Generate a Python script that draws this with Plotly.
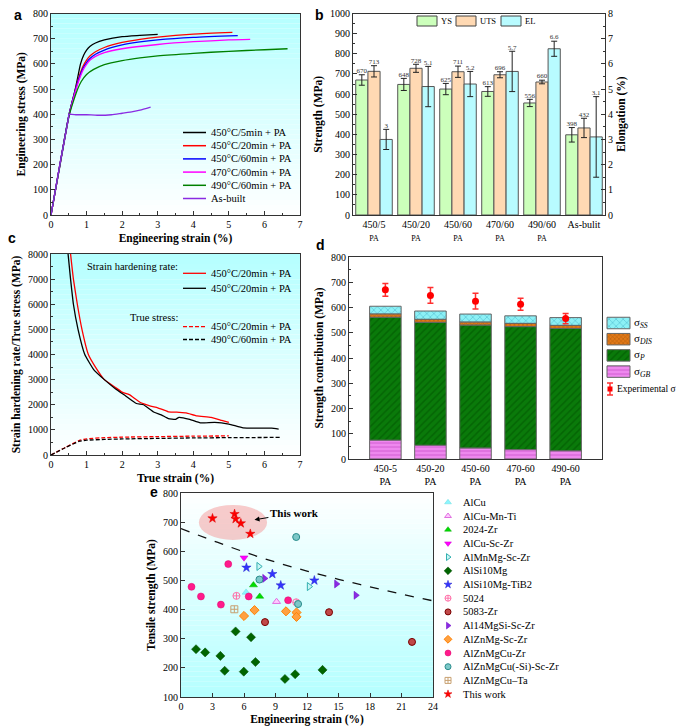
import plotly.graph_objects as go

SERIF = "Liberation Serif"
# the page body has an 8px margin; the figure is sized so that it fills the 685x726 window
OFF = 8
W, H = 685 - OFF, 726 - OFF

def px(x):
    return (x - OFF) / W

def py(y):
    return 1 - (y - OFF) / H

# ---------------- Panel a: engineering stress-strain ----------------
a_names = ["450°C/5min + PA", "450°C/20min + PA", "450°C/60min + PA",
           "470°C/60min + PA", "490°C/60min + PA", "As-built"]
a_colors = ["#000000", "#ff0000", "#0000ff", "#ff00ff", "#008000", "#8a2be2"]
a_x_450_5 = [0, 0.25, 0.51, 0.65, 0.75, 0.83, 0.92, 1.0, 1.1, 1.25, 1.5, 2.0, 2.5, 3.0]
a_y_450_5 = [0, 200, 400, 480, 545, 600, 635, 655, 670, 683, 695, 708, 713, 717]
a_x_450_20 = [0, 0.25, 0.51, 0.65, 0.78, 0.9, 1.0, 1.1, 1.25, 1.5, 2.0, 2.5, 3.0, 4.0, 5.1]
a_y_450_20 = [0, 200, 400, 480, 545, 590, 615, 632, 648, 665, 685, 697, 706, 718, 725]
a_x_450_60 = [0, 0.25, 0.51, 0.65, 0.78, 0.9, 1.0, 1.1, 1.25, 1.5, 2.0, 2.5, 3.0, 4.0, 5.25]
a_y_450_60 = [0, 200, 400, 478, 540, 582, 605, 622, 638, 655, 675, 687, 695, 705, 712]
a_x_470_60 = [0, 0.25, 0.51, 0.65, 0.78, 0.9, 1.0, 1.1, 1.25, 1.5, 2.0, 3.0, 4.0, 5.0, 5.6]
a_y_470_60 = [0, 195, 395, 472, 532, 575, 598, 615, 630, 645, 660, 677, 688, 695, 697]
a_x_490_60 = [0, 0.25, 0.51, 0.65, 0.75, 0.85, 1.0, 1.2, 1.5, 2.0, 2.5, 3.0, 4.0, 5.0, 6.0, 6.65]
a_y_490_60 = [0, 195, 395, 460, 500, 530, 558, 578, 597, 613, 624, 632, 642, 650, 656, 660]
a_x_asbuilt = [0, 0.25, 0.49, 0.5, 0.52, 0.7, 1.0, 1.3, 1.7, 2.0, 2.3, 2.5, 2.8]
a_y_asbuilt = [0, 200, 385, 400, 400, 398, 398, 396, 398, 404, 410, 416, 428]
a_xs = [a_x_450_5, a_x_450_20, a_x_450_60, a_x_470_60, a_x_490_60, a_x_asbuilt]
a_ys = [a_y_450_5, a_y_450_20, a_y_450_60, a_y_470_60, a_y_490_60, a_y_asbuilt]

# ---------------- Panel b: YS / UTS / EL bars ----------------
b_cats = ["450/5", "450/20", "450/60", "470/60", "490/60", "As-bulit"]
b_sub = ["PA", "PA", "PA", "PA", "PA", ""]
ys = [670, 648, 625, 613, 556, 398]
ys_err = [26, 30, 28, 24, 18, 36]
uts = [713, 728, 711, 696, 660, 432]
uts_err = [28, 20, 28, 15, 9, 48]
el = [3, 5.1, 5.2, 5.7, 6.6, 3.1]
el_err = [0.4, 0.8, 0.5, 0.8, 0.3, 1.6]
el_labels = ["3", "5.1", "5.2", "5.7", "6.6", "3.1"]
b_series = ["YS", "UTS", "EL"]
b_colors = ["#ccffbb", "#ffd9b3", "#b8fbff"]

# ---------------- Panel c: strain hardening ----------------
c_x_shr_450_20 = [0.55, 0.63, 0.74, 0.87, 1.05, 1.25, 1.5, 1.8, 2.0, 2.2, 2.5, 2.8, 3.0, 3.3, 3.6, 3.8, 4.1, 4.5, 4.8, 5.0]
c_y_shr_450_20 = [8000, 7000, 6000, 5000, 4000, 3500, 3000, 2700, 2500, 2400, 2100, 1950, 1880, 1720, 1700, 1680, 1560, 1500, 1380, 1300]
c_x_shr_b = [0.48, 0.55, 0.63, 0.76, 0.95, 1.2, 1.5, 1.8, 2.1, 2.4, 2.6, 2.9, 3.1, 3.3, 3.5, 3.6, 3.9, 4.2, 4.6, 5.0, 5.4, 5.8, 6.2, 6.4]
c_y_shr_b = [8000, 7000, 6000, 5000, 4000, 3400, 3000, 2650, 2350, 2050, 2000, 1700, 1600, 1450, 1420, 1500, 1420, 1280, 1300, 1230, 1080, 1070, 1070, 1030]
c_x_ts_450_20 = [0, 0.4, 0.8, 1.0, 1.5, 2.0, 3.0, 4.0, 5.0]
c_y_ts_450_20 = [0, 300, 580, 640, 690, 710, 730, 750, 760]
c_x_ts_490_60 = [0, 0.4, 0.8, 1.0, 1.5, 2.0, 3.0, 4.0, 5.0, 6.45]
c_y_ts_490_60 = [0, 290, 550, 590, 620, 640, 660, 680, 690, 700]
c_names = ["450°C/20min + PA", "450°C/20min + PA", "450°C/20min + PA", "490°C/60min + PA"]
c_colors = ["#ff0000", "#000000", "#ff0000", "#000000"]
c_dash = ["solid", "solid", "4px,2px", "4px,2px"]
c_xs = [c_x_shr_450_20, c_x_shr_b, c_x_ts_450_20, c_x_ts_490_60]
c_ys = [c_y_shr_450_20, c_y_shr_b, c_y_ts_450_20, c_y_ts_490_60]

# ---------------- Panel d: strength contributions ----------------
d_cats = ["450-5", "450-20", "450-60", "470-60", "490-60"]
sig_gb = [74, 54, 43, 37, 32]
sig_p = [487, 487, 487, 487, 485]
sig_dis = [13, 12, 12, 13, 12]
sig_ss = [31, 33, 32, 30, 31]
exp_sig = [670, 648, 625, 613, 556]
exp_err = [25, 31, 31, 24, 20]

# ---------------- Panel e: scatter ----------------
e_groups = [
    ("AlCu", [6.2], [459]),
    ("AlCu-Mn-Ti", [9.1], [427]),
    ("2024-Zr", [6.9, 7.5], [484, 445]),
    ("AlCu-Sc-Zr", [6.0], [578]),
    ("AlMnMg-Sc-Zr", [7.4, 12.2], [548, 479]),
    ("AlSi10Mg", [1.43, 2.3, 3.75, 4.16, 5.2, 5.98, 6.67, 7.09, 9.9, 10.87, 13.48],
     [264, 253, 241, 190, 325, 187, 305, 220, 162, 178, 193]),
    ("AlSi10Mg-TiB2", [6.23, 8.7, 9.5, 12.7], [544, 522, 483, 500]),
    ("5024", [5.28, 10.97], [447, 425]),
    ("5083-Zr", [8.0, 14.1, 22.0], [357, 391, 289]),
    ("Al14MgSi-Sc-Zr", [7.95, 14.8, 16.65], [507, 488, 449]),
    ("AlZnMg-Sc-Zr", [6.0, 7.0, 10.0, 11.0, 11.0], [378, 398, 394, 390, 375]),
    ("AlZnMgCu-Zr", [1.0, 1.9, 3.8, 4.5, 6.45, 10.2], [478, 445, 417, 556, 445, 432]),
    ("AlZnMgCu(-Si)-Sc-Zr", [10.97, 7.47, 11.15], [649, 503, 419]),
    ("AlZnMgCu–Ta", [5.08], [401]),
    ("This work", el[:5], uts[:5]),
]
e_styles = [
    dict(symbol="triangle-up", color="#8cf5ff", line=dict(color="#66dddd", width=0.5)),
    dict(symbol="triangle-up", color="#ffc8ff", line=dict(color="#e070e0", width=1)),
    dict(symbol="triangle-up", color="#00dd00", line=dict(color="#00aa00", width=0.5)),
    dict(symbol="triangle-down", color="#ff00ff", line=dict(color="#cc00cc", width=0.5)),
    dict(symbol="triangle-right", color="#c8f5f5", line=dict(color="#33b0b0", width=1)),
    dict(symbol="diamond", color="#006400", line=dict(color="#004d00", width=0.5)),
    dict(symbol="star", color="#3333ff", line=dict(color="#2222cc", width=0.5)),
    dict(symbol="circle-cross-open", color="#ff6fa8", line=dict(color="#ff6fa8", width=1)),
    dict(symbol="circle", color="#c04848", line=dict(color="#7a0000", width=1)),
    dict(symbol="triangle-right", color="#8a2be2", line=dict(color="#6a00c8", width=0.5)),
    dict(symbol="diamond", color="#ffa040", line=dict(color="#ff8000", width=1)),
    dict(symbol="circle", color="#ff1a8c", line=dict(color="#e0006a", width=0.5)),
    dict(symbol="circle", color="#7cc8c8", line=dict(color="#2a8c8c", width=1)),
    dict(symbol="square-cross-open", color="#c8a070", line=dict(color="#c8a070", width=1)),
    dict(symbol="star", color="#ff0000", line=dict(color="#dd0000", width=0.5)),
]
trend_x = [0, 3, 6, 9, 12, 15, 18, 21, 24]
trend_y = [678, 637, 598, 563, 532, 504, 478, 453, 430]

# ---------------- Figure ----------------
fig = go.Figure()
shapes = []
annotations = []

def ann_text(text, x, y, size=10, xanchor="left", **kw):
    annotations.append(dict(text=text, x=px(x), y=py(y), xref="paper", yref="paper",
                            xanchor=xanchor, yanchor="middle", showarrow=False,
                            font=dict(family=SERIF, size=size, color="#000"), **kw))

# panel a traces
for name, col, xs_, ys_ in zip(a_names, a_colors, a_xs, a_ys):
    fig.add_trace(go.Scatter(x=xs_, y=ys_, mode="lines", name=name, showlegend=False,
                             line=dict(color=col, width=1.3, shape="spline", smoothing=0.6),
                             xaxis="x", yaxis="y"))
# panel a legend (manual, tight spacing)
for i, (name, col) in enumerate(zip(a_names, a_colors)):
    yy = 132.5 + i * 13.2
    shapes.append(dict(type="line", xref="paper", yref="paper", x0=px(183), x1=px(206),
                       y0=py(yy), y1=py(yy), line=dict(color=col, width=1.5)))
    ann_text(name, 209, yy, size=10.5)

# panel b traces
bw = 0.29
b_pos = list(range(len(b_cats)))
b_vals = [ys, uts, el]
b_errs = [ys_err, uts_err, el_err]
b_axes = ["y2", "y2", "y3"]
b_off = [-bw, 0, bw]
b_text = [[str(v) for v in ys], [str(v) for v in uts], el_labels]
for vals, errs, nm, col, off, yax, txt in zip(b_vals, b_errs, b_series, b_colors, b_off, b_axes, b_text):
    xs_ = [p + off for p in b_pos]
    fig.add_trace(go.Bar(x=xs_, y=vals, width=bw, name=nm, showlegend=False,
                         marker=dict(color=col, line=dict(color="#555555", width=1)),
                         error_y=dict(type="data", array=errs, color="#222222", thickness=1, width=3),
                         xaxis="x2", yaxis=yax))
    fig.add_trace(go.Scatter(x=xs_, y=[v + e for v, e in zip(vals, errs)],
                             mode="text", text=txt, textposition="top center",
                             textfont=dict(size=7, family=SERIF, color="#333333"),
                             showlegend=False, xaxis="x2", yaxis=yax))
# panel b legend
for i, (nm, col) in enumerate(zip(b_series, b_colors)):
    x0 = [417, 456, 501][i]
    shapes.append(dict(type="rect", xref="paper", yref="paper", x0=px(x0), x1=px(x0 + 20),
                       y0=py(26), y1=py(16), fillcolor=col, line=dict(color="#444", width=1)))
    ann_text(nm, x0 + 22, 21, size=8.5)

# panel c traces
for nm, col, dsh, xs_, ys_ in zip(c_names, c_colors, c_dash, c_xs, c_ys):
    fig.add_trace(go.Scatter(x=xs_, y=ys_, mode="lines", name=nm, showlegend=False,
                             line=dict(color=col, width=1.3, dash=dsh, shape="spline", smoothing=0.4),
                             xaxis="x4", yaxis="y4"))
c_leg_y = [273.3, 288.3, 326.7, 339.5]
for nm, col, dsh, yy in zip(c_names, c_colors, c_dash, c_leg_y):
    shapes.append(dict(type="line", xref="paper", yref="paper", x0=px(183), x1=px(206),
                       y0=py(yy), y1=py(yy), line=dict(color=col, width=1.3, dash=dsh)))
    ann_text(nm, 209, yy, size=10.5)
ann_text("Strain hardening rate:", 180, 266.5, size=10.5, xanchor="right")
ann_text("True stress:", 180, 318, size=10.5, xanchor="right")

# panel d traces
d_pos = list(range(len(d_cats)))
base_gb = [0] * len(d_cats)
base_p = sig_gb
base_dis = [a + b for a, b in zip(sig_gb, sig_p)]
base_ss = [a + b for a, b in zip(base_dis, sig_dis)]
d_layers = [
    (sig_ss, base_ss, "σ<sub><i>SS</i></sub>", "#8cf0f5", "#3aa8c0", "x", 5),
    (sig_dis, base_dis, "σ<sub><i>DIS</i></sub>", "#e07818", "#804000", "x", 3),
    (sig_p, base_p, "σ<sub><i>P</i></sub>", "#0a7a0a", "#005000", "/", 5),
    (sig_gb, base_gb, "σ<sub><i>GB</i></sub>", "#ee88ee", "#c040c0", "-", 4),
]
for i, (vals, base, nm, col, fg, shp, sz) in enumerate(d_layers):
    pat = dict(shape=shp, fgcolor=fg, size=sz, solidity=0.3, fillmode="overlay")
    fig.add_trace(go.Bar(x=d_pos, y=vals, base=base, width=0.7, name=nm, showlegend=False,
                         marker=dict(color=col, line=dict(color="#666666", width=1), pattern=pat),
                         xaxis="x5", yaxis="y5"))
    # legend swatch on the pixel overlay axis
    yy = 323 + i * 16.2
    fig.add_trace(go.Bar(y=[yy], x=[23], base=[607], width=11.5, orientation="h",
                         showlegend=False, hoverinfo="skip",
                         marker=dict(color=col, line=dict(color="#666666", width=1), pattern=pat),
                         xaxis="x7", yaxis="y7"))
    ann_text(nm, 632, yy, size=11)
fig.add_trace(go.Scatter(x=d_pos, y=exp_sig, mode="markers", name="Experimental σ", showlegend=False,
                         marker=dict(color="#ff0000", size=7, symbol="circle"),
                         error_y=dict(type="data", array=exp_err, color="#ff3030", thickness=1.5, width=3),
                         xaxis="x5", yaxis="y5"))
fig.add_trace(go.Scatter(x=[610], y=[389], mode="markers", showlegend=False, hoverinfo="skip",
                         marker=dict(color="#ff0000", size=5, symbol="square"),
                         error_y=dict(type="constant", value=6, color="#ff3030", thickness=1.5, width=3),
                         xaxis="x7", yaxis="y7"))
ann_text("Experimental σ", 615, 389, size=9.5)

# panel e traces
fig.add_trace(go.Scatter(x=trend_x, y=trend_y, mode="lines", showlegend=False,
                         line=dict(color="#111111", width=1.3, dash="dash", shape="spline"),
                         xaxis="x6", yaxis="y6"))
for i, ((nm, xs_, ys_), st) in enumerate(zip(e_groups, e_styles)):
    fig.add_trace(go.Scatter(x=xs_, y=ys_, mode="markers", name=nm, showlegend=False,
                             marker=dict(size=7, **st), xaxis="x6", yaxis="y6"))
    yy = 502.3 + i * 13.7
    fig.add_trace(go.Scatter(x=[448], y=[yy], mode="markers", showlegend=False, hoverinfo="skip",
                             marker=dict(size=6, **st), xaxis="x7", yaxis="y7"))
    ann_text(nm, 461, yy, size=10.5)

# ---------------- Gradient backgrounds ----------------
def grad(xref, yref, top, bottom, n=40):
    c_top = [int(top[i:i + 2], 16) for i in (1, 3, 5)]
    c_bot = [int(bottom[i:i + 2], 16) for i in (1, 3, 5)]
    for i in range(n):
        t = (i + 0.5) / n
        c = [round(c_bot[k] + (c_top[k] - c_bot[k]) * t) for k in range(3)]
        shapes.insert(0, dict(type="rect", xref=xref, yref=yref, x0=0, x1=1,
                              y0=i / n, y1=(i + 1) / n, layer="below",
                              line=dict(width=0), fillcolor="rgb(%d,%d,%d)" % tuple(c)))

grad("x domain", "y domain", "#b4ffff", "#ffffff")
grad("x4 domain", "y4 domain", "#b4ffff", "#ffffff")
grad("x6 domain", "y6 domain", "#ffffff", "#b4ffff")

tw_x, tw_y = el[:5], uts[:5]
shapes.append(dict(type="circle", xref="x6", yref="y6",
                   x0=min(tw_x) - 1.3, x1=max(tw_x) + 1.6,
                   y0=min(tw_y) - 21, y1=max(tw_y) + 31,
                   layer="below", line=dict(width=0), fillcolor="rgba(245,140,140,0.45)"))

# ---------------- Axes ----------------
tickf = dict(family=SERIF, size=10, color="#000")
titlef = dict(family=SERIF, size=11.5, color="#000")

def ax(domain, rng, dtick=None, anchor=None, title=None, **kw):
    d = dict(domain=domain, range=rng, showline=True, linecolor="#333", linewidth=1,
             mirror=True, ticks="inside", ticklen=4, tickcolor="#333", showgrid=False,
             zeroline=False, tickfont=tickf, automargin=False, anchor=anchor,
             ticklabeloverflow="allow")
    if dtick is not None:
        d["dtick"] = dtick
    if title:
        d["title"] = dict(text="<b>%s</b>" % title, font=titlef, standoff=4)
    d.update(kw)
    return d

TOP = 13.5
xa_dom = [px(51), px(300)]
xb_dom = [px(353), px(605)]
xd_dom = [px(349), px(602)]
xe_dom = [px(181), px(433)]

for lbl, x, y in [("a", 12, 15.5), ("b", 313, 15.5), ("c", 6, 238), ("d", 314, 245), ("e", 148, 492)]:
    annotations.append(dict(text="<b>%s</b>" % lbl, x=px(x), y=py(y), xref="paper", yref="paper",
                            xanchor="left", yanchor="middle", showarrow=False,
                            font=dict(family="Liberation Sans", size=14, color="#000")))
annotations.append(dict(text="<b>This work</b>", x=7.0, y=708, ax=10.8, ay=731, xref="x6", yref="y6",
                        axref="x6", ayref="y6", showarrow=True, arrowhead=2, arrowsize=1, arrowwidth=1,
                        arrowcolor="#000", font=dict(family=SERIF, size=11, color="#000")))

layout = dict(
    width=W, height=H, margin=dict(l=0, r=0, t=0, b=0),
    paper_bgcolor="white", plot_bgcolor="rgba(0,0,0,0)",
    font=dict(family=SERIF, color="#000"),
    barmode="overlay", shapes=shapes, annotations=annotations, showlegend=False,
    xaxis=ax(xa_dom, [0, 7], 1, "y", "Engineering strain (%)",
             minor=dict(ticks="inside", ticklen=2, dtick=0.5)),
    yaxis=ax([py(215), py(TOP)], [0, 800], 100, "x", "Engineering stress (MPa)",
             minor=dict(ticks="inside", ticklen=2, dtick=50)),
    xaxis2=ax(xb_dom, [-0.5, 5.5], None, "y2", None,
              tickmode="array", tickvals=b_pos,
              ticktext=["%s<br><span style='font-size:8px'>%s</span>" % (c, s) if s else c
                        for c, s in zip(b_cats, b_sub)], ticks=""),
    yaxis2=ax([py(215), py(TOP)], [0, 1000], 100, "x2", "Strength (MPa)", mirror=False,
              minor=dict(ticks="inside", ticklen=2, dtick=50)),
    yaxis3=ax([py(215), py(TOP)], [0, 8], 1, "x2", "Elongation (%)", overlaying="y2",
              side="right", mirror=False, minor=dict(ticks="inside", ticklen=2, dtick=0.5)),
    xaxis4=ax(xa_dom, [0, 7], 1, "y4", "True strain (%)",
              minor=dict(ticks="inside", ticklen=2, dtick=0.5)),
    yaxis4=ax([py(455), py(254)], [0, 8000], 1000, "x4", "Strain hardening rate/True stress (MPa)",
              minor=dict(ticks="inside", ticklen=2, dtick=500)),
    xaxis5=ax(xd_dom, [-0.807, 4.807], None, "y5", None, tickmode="array", tickvals=d_pos,
              ticktext=["%s<br>PA" % c for c in d_cats], ticks=""),
    yaxis5=ax([py(459), py(257)], [0, 800], 100, "x5", "Strength contribution (MPa)",
              minor=dict(ticks="inside", ticklen=2, dtick=50)),
    xaxis6=ax(xe_dom, [0, 24], 3, "y6", "Engineering strain (%)"),
    yaxis6=ax([py(697), py(493)], [100, 800], 100, "x6", "Tensile strength (MPa)"),
    xaxis7=dict(domain=[0, 1], range=[OFF, OFF + W], visible=False, anchor="y7", fixedrange=True),
    yaxis7=dict(domain=[0, 1], range=[OFF + H, OFF], visible=False, anchor="x7", fixedrange=True),
)
fig.update_layout(**layout)
fig.write_html("out.html")
